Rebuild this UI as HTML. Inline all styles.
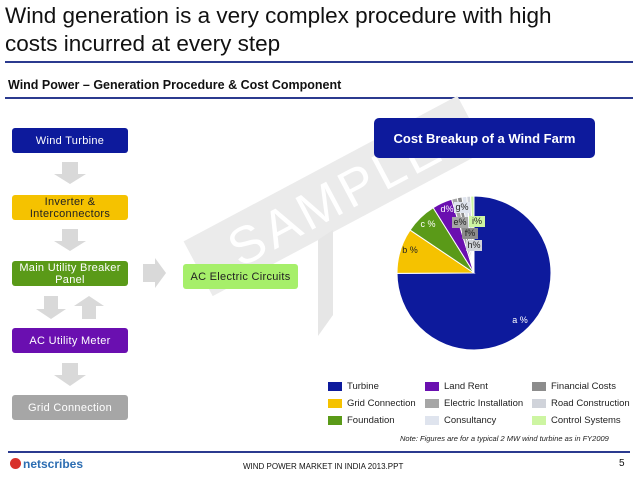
<!DOCTYPE html>
<html><head><meta charset="utf-8"><style>
body{margin:0;width:638px;height:479px;background:#fff;position:relative;overflow:hidden;font-family:"Liberation Sans",sans-serif}
.abs{position:absolute}
.box{position:absolute;left:12px;width:116px;height:25px;border-radius:3px;color:#fff;font-size:11px;display:flex;align-items:center;justify-content:center;text-align:center;line-height:12px;letter-spacing:0.3px}
.leg{position:absolute;font-size:9.5px;color:#222;display:flex;align-items:center}
.leg i{display:inline-block;width:14px;height:9px;margin-right:5px}
</style></head><body>
<div class="abs" style="left:5px;top:2px;font-size:22.5px;line-height:28px;color:#111">Wind generation is a very complex procedure with high<br>costs incurred at every step</div>
<div class="abs" style="left:5px;top:61px;width:628px;height:2px;background:#2b3a8f"></div>
<div class="abs" style="left:8px;top:78px;font-size:12.5px;font-weight:bold;color:#111">Wind Power – Generation Procedure &amp; Cost Component</div>
<div class="abs" style="left:5px;top:97px;width:628px;height:2px;background:#2b3a8f"></div>

<div class="abs" style="left:180px;top:165px;width:310px;height:62px;background:#ebebeb;transform:rotate(-28deg);transform-origin:center;color:#fff;font-size:52px;line-height:66px;text-align:center;letter-spacing:4px">SAMPLE</div>
<svg class="abs" style="left:0;top:0" width="638" height="479">
<polygon points="318,240 333,230 333,315 318,336" fill="#e6e6e6"/>
<g fill="#d9d9d9">
<polygon points="62,162 78,162 78,174 86,174 70,184 54,174 62,174"/>
<polygon points="62,229 78,229 78,241 86,241 70,251 54,241 62,241"/>
<polygon points="44,296 58,296 58,309 66,309 51,319 36,309 44,309"/>
<polygon points="82,319 96,319 96,306 104,306 89,296 74,306 82,306"/>
<polygon points="62,363 78,363 78,375 86,375 70,386 54,375 62,375"/>
<polygon points="143,264 155,264 155,258 166,273 155,288 155,282 143,282"/>
</g></svg>
<div class="box" style="top:128px;background:#0d1a9c">Wind Turbine</div>
<div class="box" style="top:195px;background:#f5c200;color:#222">Inverter &amp;<br>Interconnectors</div>
<div class="box" style="top:261px;background:#5a9a18">Main Utility Breaker<br>Panel</div>
<div class="box" style="top:328px;background:#6a0fb0">AC Utility Meter</div>
<div class="box" style="top:395px;background:#a6a6a6">Grid Connection</div>
<div class="box" style="left:183px;width:115px;top:264px;background:#a6ef6a;color:#222">AC Electric Circuits</div>

<div class="abs" style="left:374px;top:118px;width:221px;height:40px;border-radius:5px;background:#0d1a9c;color:#fff;font-weight:bold;font-size:13px;display:flex;align-items:center;justify-content:center">Cost Breakup of a Wind Farm</div>

<svg id="pie" class="abs" style="left:0;top:0" width="638" height="479"></svg>

<div class="leg" style="left:328px;top:381px"><i style="background:#0d1a9c"></i>Turbine</div>
<div class="leg" style="left:328px;top:398px"><i style="background:#f5c200"></i>Grid Connection</div>
<div class="leg" style="left:328px;top:415px"><i style="background:#5a9a18"></i>Foundation</div>
<div class="leg" style="left:425px;top:381px"><i style="background:#6a0fb0"></i>Land Rent</div>
<div class="leg" style="left:425px;top:398px"><i style="background:#a6a6a6"></i>Electric Installation</div>
<div class="leg" style="left:425px;top:415px"><i style="background:#dfe4ee"></i>Consultancy</div>
<div class="leg" style="left:532px;top:381px"><i style="background:#8c8c8c"></i>Financial Costs</div>
<div class="leg" style="left:532px;top:398px"><i style="background:#d0d3da"></i>Road Construction</div>
<div class="leg" style="left:532px;top:415px"><i style="background:#cdf5a2"></i>Control Systems</div>
<div class="abs" style="left:400px;top:434px;font-size:7.5px;font-style:italic;color:#222">Note: Figures are for a typical 2 MW wind turbine as in FY2009</div>

<div class="abs" style="left:8px;top:451px;width:622px;height:2px;background:#2b3a8f"></div>
<div class="abs" style="left:10px;top:457px;font-size:12px;font-weight:bold;color:#2c6db2"><span style="display:inline-block;width:11px;height:11px;border-radius:50%;background:#d8312b;vertical-align:-1px;margin-right:2px"></span>netscribes</div>
<div class="abs" style="left:243px;top:462px;font-size:8px;color:#111">WIND POWER  MARKET IN INDIA 2013.PPT</div>
<div class="abs" style="left:619px;top:458px;font-size:10px;color:#111">5</div>

<script>
const categories=["Turbine","Grid Connection","Foundation","Land Rent","Electric Installation","Financial Costs","Consultancy","Road Construction","Control Systems"];
const values=[75,9.5,6.7,4.2,1.2,1.0,1.0,0.8,0.7];
const labels=["a %","b %","c %","d%","e%","f%","g%","h%","i%"];
const colors=["#0d1a9c","#f5c200","#5a9a18","#6a0fb0","#a6a6a6","#8c8c8c","#dfe4ee","#d0d3da","#cdf5a2"];
const labelPos=[[520,323],[410,253],[428,227],[447,212],[460,225],[470,236],[462,210],[474,248],[477,224]];
const boxed=[false,false,false,false,true,true,true,true,true];
const svg=document.getElementById('pie');
const NS="http://www.w3.org/2000/svg";
const cx=474,cy=273,r=77;
const total=values.reduce((a,b)=>a+b,0);
function pt(a,rr){return [cx+rr*Math.sin(a),cy-rr*Math.cos(a)];}
let ang=0;
values.forEach((v,i)=>{
  const a0=ang,a1=ang+v/total*2*Math.PI;ang=a1;
  const p0=pt(a0,r),p1=pt(a1,r);
  const large=(a1-a0)>Math.PI?1:0;
  const p=document.createElementNS(NS,'path');
  p.setAttribute('d',`M${cx},${cy}L${p0[0]},${p0[1]}A${r},${r} 0 ${large} 1 ${p1[0]},${p1[1]}Z`);
  p.setAttribute('fill',colors[i]);p.setAttribute('stroke','#fff');p.setAttribute('stroke-width','1');
  
  
  svg.appendChild(p);
});
values.forEach((v,i)=>{
  const lp=labelPos[i];
  if(boxed[i]){
    const b=document.createElementNS(NS,'rect');
    b.setAttribute('x',lp[0]-8);b.setAttribute('y',lp[1]-8);b.setAttribute('width',16);b.setAttribute('height',11);
    b.setAttribute('fill',colors[i]);
    
    
    svg.appendChild(b);
  }
  const t=document.createElementNS(NS,'text');
  t.setAttribute('x',lp[0]);t.setAttribute('y',lp[1]);
  t.setAttribute('font-size','9');t.setAttribute('font-family','Liberation Sans, sans-serif');
  t.setAttribute('text-anchor','middle');
  t.setAttribute('fill',(i===0||i===2||i===3)?'#fff':'#222');
  t.textContent=labels[i];
  
  
  svg.appendChild(t);
});
</script>
</body></html>
